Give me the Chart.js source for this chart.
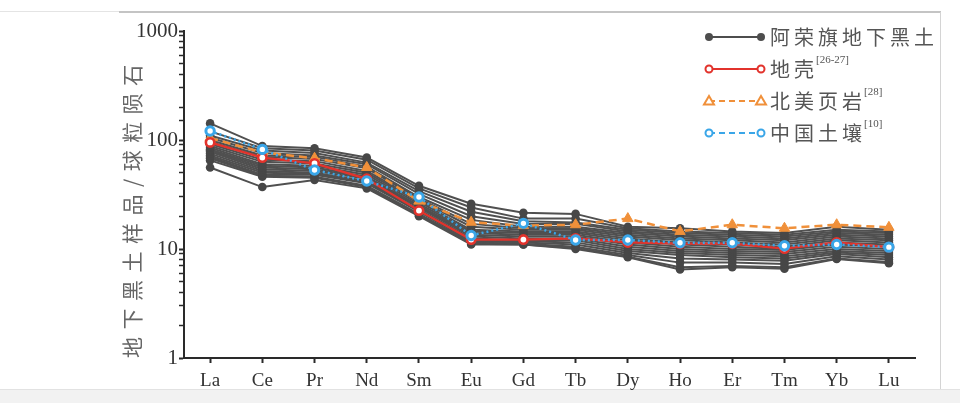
<!DOCTYPE html>
<html><head><meta charset="utf-8">
<script src="https://cdn.jsdelivr.net/npm/chart.js@4"></script>
<style>
html,body{margin:0;padding:0;background:#fff;}
#wrap{position:relative;width:960px;height:403px;overflow:hidden;background:#fff;}
canvas{position:absolute;left:0;top:0;}
.d{position:absolute;}
</style></head><body>
<div id="wrap">
<div class="d" style="left:0;top:11px;width:119px;height:1px;background:#e4e4e4"></div>
<div class="d" style="left:119px;top:11px;width:822px;height:2px;background:#c4c4c4"></div>
<div class="d" style="left:940px;top:12px;width:1px;height:377px;background:#d4d4d4"></div>
<div class="d" style="left:0;top:389px;width:960px;height:14px;background:#f2f2f2;border-top:1px solid #e2e2e2"></div>
<canvas id="c" width="960" height="403"></canvas>
</div>
<script>
// ---- data ----
const elements = ['La','Ce','Pr','Nd','Sm','Eu','Gd','Tb','Dy','Ho','Er','Tm','Yb','Lu'];
const yTickLabels = [1, 10, 100, 1000];

const crust     = [95, 69, 61, 44, 22.5, 12.2, 12.2, 12.5, 11.5, 11.2, 11.2, 10.1, 11.5, 10.4];
const nasc      = [104, 77, 68, 56, 27.5, 17.6, 16.4, 16.7, 19, 14.5, 16.7, 15.5, 16.7, 15.8];
const chinaSoil = [121, 82, 53, 42, 30, 13.3, 17.2, 12.1, 12.1, 11.4, 11.4, 10.7, 11.0, 10.4];

const sample01 = [142, 88, 84, 69, 38, 26, 21.5, 21, 16, 15.5, 14.5, 14, 16, 15];
const sample02 = [120, 84, 80, 66, 36, 24, 19, 19, 15.5, 14.5, 14, 13.5, 15, 14.5];
const sample03 = [110, 80, 76, 62, 34, 22, 18, 17.5, 15, 14, 13.5, 13, 14.5, 14];
const sample04 = [105, 76, 72, 60, 32, 20, 17, 17, 14.5, 13.5, 13, 12.5, 14, 13.5];
const sample05 = [100, 72, 70, 57, 30, 18.5, 16, 16, 14, 13, 12.5, 12, 13.5, 13];
const sample06 = [96, 70, 67, 55, 29, 17, 15.5, 15.5, 13.5, 12.5, 12, 11.5, 13, 12.5];
const sample07 = [92, 66, 64, 52, 28, 16, 15, 15, 13, 12, 11.5, 11, 12.5, 12];
const sample08 = [88, 63, 61, 50, 27, 15, 14.5, 14.5, 12.5, 11.5, 11, 10.5, 12, 11.5];
const sample09 = [85, 60, 58, 48, 26, 14.5, 14, 14, 12, 11, 10.5, 10, 11.5, 11];
const sample10 = [82, 58, 56, 46, 25, 14, 13.5, 13.5, 11.5, 10.5, 10, 9.8, 11, 10.5];
const sample11 = [80, 56, 54, 45, 24.5, 13.5, 13, 13, 11, 10, 9.6, 9.4, 10.5, 10];
const sample12 = [78, 54, 52, 44, 24, 13, 12.5, 12.5, 10.5, 9.6, 9.2, 9, 10, 9.6];
const sample13 = [75, 52, 50, 42, 23, 12.5, 12, 12, 10, 9.2, 8.8, 8.6, 9.6, 9.2];
const sample14 = [72, 50, 49, 41, 22.5, 12, 11.8, 11.5, 9.6, 8.8, 8.4, 8.2, 9.3, 8.8];
const sample15 = [70, 48, 48, 40, 22, 11.8, 11.5, 11, 9.2, 8.2, 8, 7.8, 9, 8.4];
const sample16 = [68, 47, 46, 38, 21, 11.5, 11.2, 10.5, 8.8, 7.5, 7.5, 7.3, 8.6, 8];
const sample17 = [65, 46, 45, 37, 20.5, 11.2, 11, 10.2, 8.5, 6.8, 7, 6.8, 8.2, 7.6];
const sample18 = [56, 37, 43, 36, 20, 11, 11, 10, 8.4, 6.5, 6.8, 6.6, 8.1, 7.4];
const samples = [sample01,sample02,sample03,sample04,sample05,sample06,sample07,sample08,sample09,
                 sample10,sample11,sample12,sample13,sample14,sample15,sample16,sample17,sample18];

const legendLabels = ['阿荣旗地下黑土', '地壳', '北美页岩', '中国土壤'];
const legendSups = ['', '[26-27]', '[28]', '[10]'];
const yTitle = '地下黑土样品/球粒陨石';

// ---- styles ----
const GRAY = '#505050', RED = '#e2332c', ORANGE = '#f0903a', BLUE = '#3aa6e8';

const datasets = [];
datasets.push({label:'中国土壤', data: chinaSoil, order:0, borderColor:BLUE, borderWidth:2.5, borderDash:[2,3],
  pointRadius:4.2, pointBackgroundColor:'#fff', pointBorderColor:BLUE, pointBorderWidth:3, fill:false});
datasets.push({label:'地壳', data: crust, order:1, borderColor:RED, borderWidth:2.2,
  pointRadius:4.2, pointBackgroundColor:'#fff', pointBorderColor:RED, pointBorderWidth:2.6, fill:false});
datasets.push({label:'北美页岩', data: nasc, order:2, borderColor:ORANGE, borderWidth:2.5, borderDash:[8,5],
  pointStyle:'triangle', pointRadius:6, pointBackgroundColor:ORANGE, pointBorderColor:ORANGE, pointBorderWidth:1, fill:false});
samples.forEach((s,i)=>datasets.push({label:'阿荣旗地下黑土'+(i+1), data:s, order:3, borderColor:GRAY, borderWidth:2,
  pointRadius:4.3, pointBackgroundColor:'#474747', pointBorderWidth:0, fill:false}));

const legendPlugin = {
  id:'customLegend',
  afterDraw(chart){
    const ctx = chart.ctx;
    const styles = [
      {color:'#4d4d4d', dash:[], marker:'dot'},
      {color:RED, dash:[], marker:'ring'},
      {color:ORANGE, dash:[6,4], marker:'tri'},
      {color:BLUE, dash:[6,4], marker:'ring'}
    ];
    const rowsY = [37, 69, 101, 133];
    const x0 = 709, x1 = 761, tx = 770;
    legendLabels.forEach((lab, i) => {
      const st = styles[i], y = rowsY[i];
      ctx.save();
      ctx.strokeStyle = st.color; ctx.lineWidth = 2; ctx.setLineDash(st.dash);
      ctx.beginPath(); ctx.moveTo(x0, y); ctx.lineTo(x1, y); ctx.stroke();
      ctx.setLineDash([]);
      [x0, x1].forEach(mx => {
        ctx.beginPath();
        if (st.marker === 'dot') { ctx.arc(mx, y, 4, 0, Math.PI*2); ctx.fillStyle = st.color; ctx.fill(); }
        else if (st.marker === 'ring') { ctx.arc(mx, y, 3.5, 0, Math.PI*2); ctx.fillStyle = '#fff'; ctx.fill(); ctx.lineWidth = 2; ctx.stroke(); }
        else { ctx.moveTo(mx, y-5); ctx.lineTo(mx+5, y+3.5); ctx.lineTo(mx-5, y+3.5); ctx.closePath(); ctx.fillStyle='#fff'; ctx.fill(); ctx.lineWidth=2; ctx.stroke(); }
      });
      ctx.fillStyle = '#555';
      ctx.textBaseline = 'middle'; ctx.textAlign = 'left';
      ctx.font = "20px 'Noto Sans CJK SC'";
      ctx.letterSpacing = '4px';
      ctx.fillText(lab, tx, y);
      const w = ctx.measureText(lab).width;
      if (legendSups[i]) {
        ctx.letterSpacing = '0px';
        ctx.font = "11px 'Liberation Serif'";
        ctx.fillText(legendSups[i], tx + w - 2, y - 9);
      }
      ctx.restore();
    });
  }
};

const titleSpacingPlugin = {
  id:'titleSpacing',
  beforeDraw(chart){
    const ys = chart.scales.y;
    if (ys && !ys._spaced) {
      const orig = ys.drawTitle.bind(ys);
      ys.drawTitle = function(){ const c = this.ctx; c.save(); c.letterSpacing = '7.5px'; orig(); c.restore(); };
      ys._spaced = true;
    }
  }
};

new Chart(document.getElementById('c'), {
  type:'line',
  data:{labels: elements, datasets},
  plugins:[titleSpacingPlugin, legendPlugin],
  options:{
    responsive:false, animation:false, devicePixelRatio:1,
    layout:{padding:{left:115, top:31, right:45, bottom:0}},
    plugins:{legend:{display:false}, tooltip:{enabled:false}},
    elements:{line:{tension:0}},
    scales:{
      x:{
        type:'category', offset:true,
        grid:{drawOnChartArea:false, tickLength:5, tickColor:'#2a2a2a', tickWidth:2},
        border:{color:'#2a2a2a', width:2},
        ticks:{font:{family:"'Liberation Serif'", size:19}, color:'#333', padding:7, autoSkip:false, maxRotation:0},
        afterFit(s){ s.height = 45; }
      },
      y:{
        type:'logarithmic', min:1, max:1000,
        grid:{drawOnChartArea:false, tickLength:5, tickColor:'#2a2a2a',
          tickWidth:(c)=>{ const v=c.tick&&c.tick.value; return yTickLabels.includes(v)?2:1.5; }},
        border:{color:'#2a2a2a', width:2},
        ticks:{font:{family:"'Liberation Serif'", size:21}, color:'#333', padding:1, autoSkip:false,
          callback:(v)=> yTickLabels.includes(v) ? String(v) : ''},
        title:{display:true, text:yTitle, align:'start', color:'#666',
          font:{family:"'Noto Sans CJK SC'", size:21}, padding:{top:4,bottom:4}},
        afterFit(s){ s.width = 69; }
      }
    }
  }
});
</script>
</body></html>
